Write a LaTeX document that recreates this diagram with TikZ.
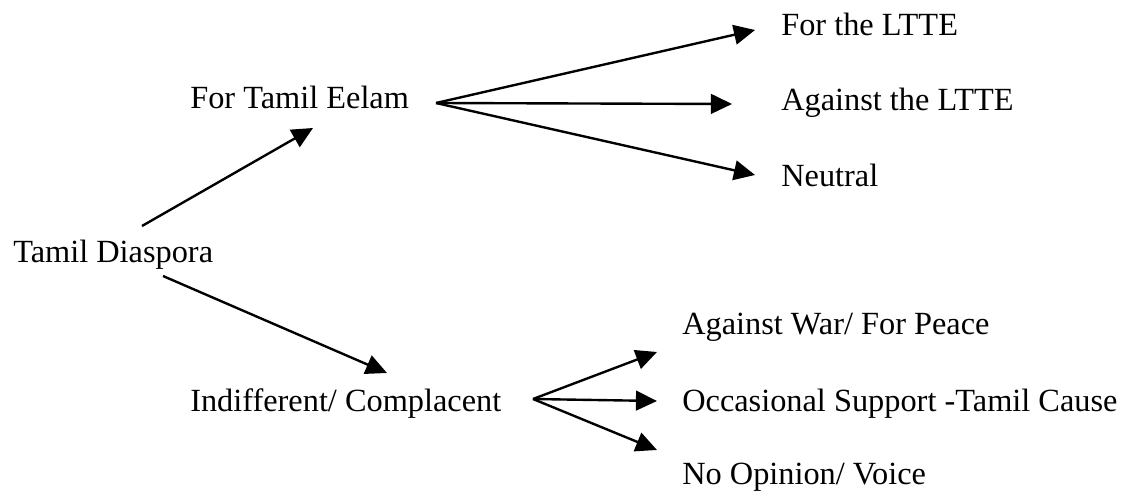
\documentclass[tikz,border=0pt]{standalone}
\usepackage{fontspec}
\setmainfont{Liberation Serif}
\usetikzlibrary{arrows.meta,calc}

\begin{document}
\begin{tikzpicture}[x=0.025cm,y=-0.025cm,
  lbl/.style={anchor=base west,inner sep=0pt,font=\fontsize{23}{28}\selectfont},
  arr/.style={line width=1.7pt,-{Triangle[length=15pt,width=14pt]}}]
\useasboundingbox (0,0) rectangle (1130,492);
% labels
\node[lbl] (dia) at (13,262) {Tamil Diaspora};
\node[lbl] (eel) at (190,109) {For Tamil Eelam};
\node[lbl] (ind) at (190,411) {Indifferent/ Complacent};
\node[lbl] (for) at (781,36) {For the LTTE};
\node[lbl] (aga) at (781,111) {Against the LTTE};
\node[lbl] (neu) at (781,186) {Neutral};
\node[lbl] (war) at (682,334) {Against War/ For Peace};
\node[lbl] (occ) at (682,411) {Occasional Support -Tamil Cause};
\node[lbl] (nop) at (682,484) {No Opinion/ Voice};
% fan origins
\coordinate (eelo) at ($(eel.base west)+(246,-6)$);
\coordinate (indo) at ($(ind.base west)+(343,-12)$);
% first split
\draw[arr] ($(dia.base west)+(129,-36)$) -- ($(eel.base west)+(123,19)$);
\draw[arr] ($(dia.base west)+(150,14)$) -- ($(ind.base west)+(197,-38)$);
% fans
\draw[arr] (eelo) -- ($(for.base west)+(-26,-6)$);
\draw[arr] (eelo) -- ($(aga.base west)+(-49,-7)$);
\draw[arr] (eelo) -- ($(neu.base west)+(-26,-11)$);
\draw[arr] (indo) -- ($(war.base west)+(-25,18)$);
\draw[arr] (indo) -- ($(occ.base west)+(-25,-10)$);
\draw[arr] (indo) -- ($(nop.base west)+(-25,-34)$);
\end{tikzpicture}
\end{document}
